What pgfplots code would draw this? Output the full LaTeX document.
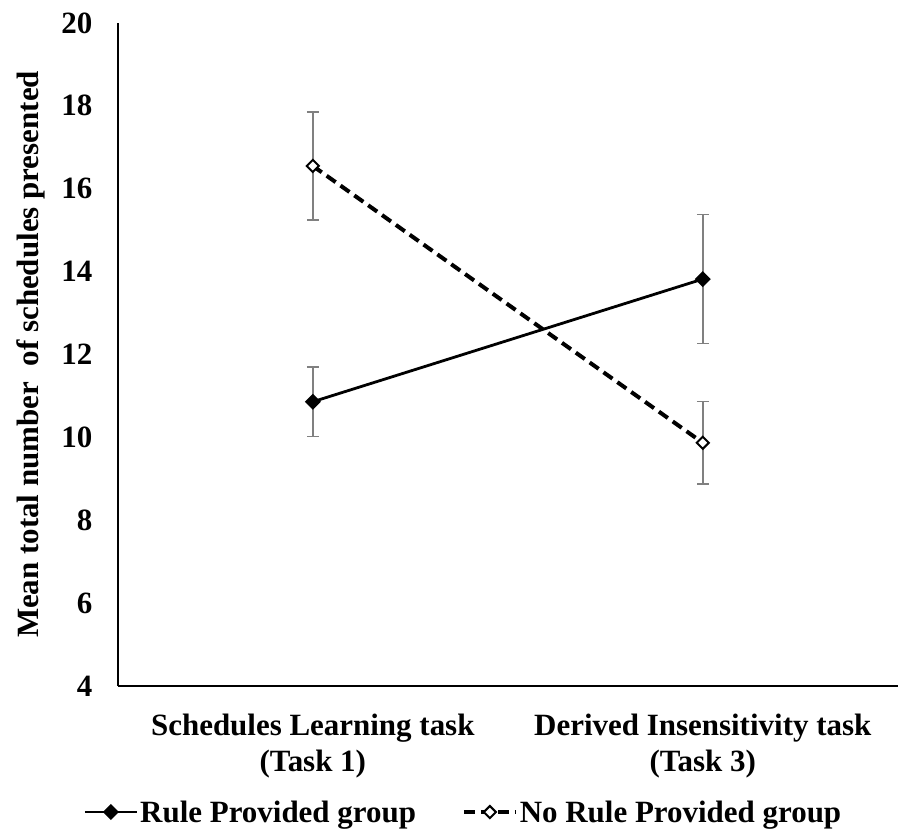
\documentclass[border=0pt]{standalone}
\usepackage{fontspec}
\setmainfont{Liberation Serif}
\usepackage{pgfplots}
\pgfplotsset{compat=1.18}

\newcommand{\chartfont}{\bfseries\fontsize{31bp}{37bp}\selectfont}

\begin{document}
\begin{tikzpicture}
\begin{axis}[
    scale only axis,
    width=781bp, height=664bp,
    xmin=0.5, xmax=2.5,
    ymin=4, ymax=20,
    ytick={4,6,...,20},
    xtick={1,2},
    xticklabels={{Schedules Learning task\\(Task 1)},{Derived Insensitivity task\\(Task 3)}},
    axis x line=bottom, axis y line=left,
    axis line style={-, line width=2.5bp, black},
    major tick length=0pt,
    /pgf/number format/assume math mode=true,
    tick label style={font=\chartfont},
    xticklabel style={align=center, yshift=-24bp},
    yticklabel style={xshift=-22bp},
    ylabel={Mean total number\ \ of schedules presented},
    ylabel style={font=\chartfont, at={(axis description cs:0,0.5)}, yshift=87bp, anchor=center},
    legend columns=2,
    legend style={font=\chartfont, draw=none, fill=none,
        at={(axis description cs:0.443,-0.19)}, anchor=center,
        /tikz/every even column/.append style={column sep=44bp}},
    legend image code/.code={
        \draw[mark repeat=2, mark phase=2, #1] plot coordinates {(0bp,0bp) (26bp,0bp) (52bp,0bp)};
    },
    error bars/y dir=both,
    error bars/y explicit,
    error bars/error bar style={solid, line width=1.5bp, color=black!50},
    error bars/error mark options={solid, rotate=90, mark size=6bp, line width=1.5bp, color=black!50},
]

\addplot[black, line width=2.8bp, mark=square*, mark size=4.3bp,
    mark options={solid, rotate=45, fill=black}]
coordinates {
    (1, 10.86) +- (0, 0.84)
    (2, 13.82) +- (0, 1.56)
};

\addplot[black, line width=4bp, dash pattern=on 11bp off 6bp, mark=square*, mark size=4.3bp,
    mark options={solid, rotate=45, fill=white, line width=2bp}]
coordinates {
    (1, 16.55) +- (0, 1.30)
    (2, 9.87) +- (0, 0.99)
};

\legend{Rule Provided group, No Rule Provided group}
\end{axis}
\path ([xshift=-118bp,yshift=-143bp]current axis.south west) rectangle ([yshift=23bp]current axis.north east);
\end{tikzpicture}
\end{document}
